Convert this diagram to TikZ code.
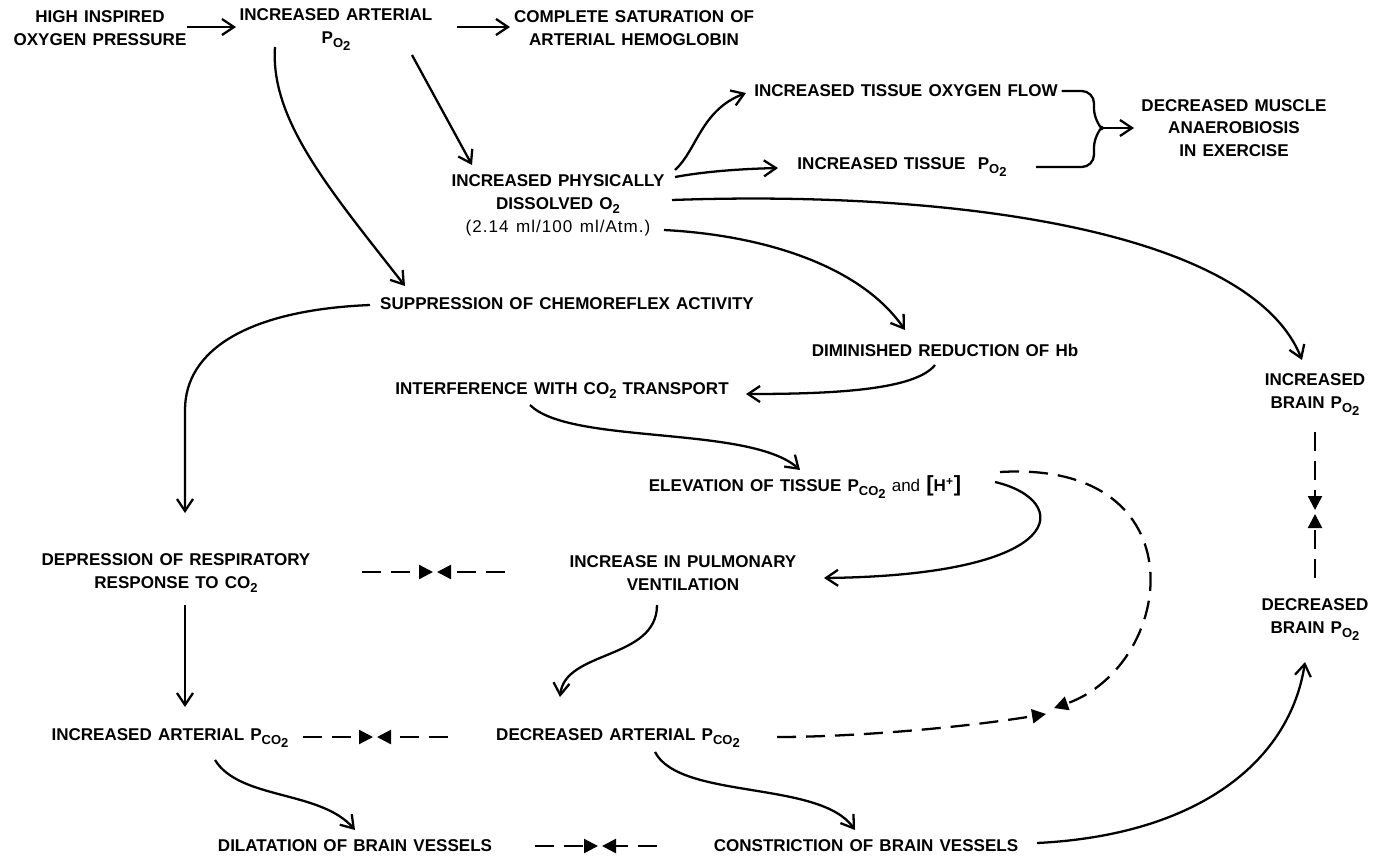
\documentclass[tikz,border=0pt]{standalone}
\usepackage{fontspec}
\setmainfont{Liberation Sans}[WordSpace=1.3]
\usetikzlibrary{arrows.meta,calc}

\newcommand\lowr[1]{\raisebox{-.45ex}{\fontsize{7.4}{7}\selectfont #1}}
\newcommand\pOtwo{P\lowr{O\lowr{2}}}
\newcommand\pCOtwo{P\lowr{CO\lowr{2}}}
\newcommand\otwo{O\lowr{2}}
\newcommand\cotwo{CO\lowr{2}}

\begin{document}
\begin{tikzpicture}[x=0.02cm, y=-0.02cm,
  font=\fontsize{9.7}{13}\selectfont\bfseries,
  lbl/.style={align=center, inner sep=2pt},
  ln/.style={line width=1.3pt},
  arr/.style={ln, -{Straight Barb[length=2.4mm,width=3.2mm]}},
  dsh/.style={ln, dash pattern=on 0.38cm off 0.2cm, -{Triangle[length=2.8mm,width=2.8mm]}},
]
  \useasboundingbox (0,0) rectangle (1378,856);

  \node[lbl] (hiox)    at (100,28)   {HIGH INSPIRED\\OXYGEN PRESSURE};
  \node[lbl] (artpo)   at (336,30)   {INCREASED ARTERIAL\\\pOtwo};
  \node[lbl] (sat)     at (634,28)   {COMPLETE SATURATION OF\\ARTERIAL HEMOGLOBIN};
  \node[lbl] (dissol)  at (558,205)  {INCREASED PHYSICALLY\\DISSOLVED \otwo\\
                                      {\mdseries\addfontfeature{LetterSpace=6}(2.14 ml/100 ml/Atm.)}};
  \node[lbl] (tisflow) at (906,91)   {INCREASED TISSUE OXYGEN FLOW};
  \node[lbl] (tispo)   at (902,167)  {INCREASED TISSUE \ \pOtwo};
  \node[lbl] (anaer)   at (1234,128) {DECREASED MUSCLE\\ANAEROBIOSIS\\IN EXERCISE};

  \node[lbl] (chemo)   at (567,304)  {SUPPRESSION OF CHEMOREFLEX ACTIVITY};
  \node[lbl] (dimin)   at (945,350)  {DIMINISHED REDUCTION OF Hb};
  \node[lbl] (interf)  at (562,391)  {INTERFERENCE WITH \cotwo\ TRANSPORT};
  \node[lbl] (elev)    at (805,487)  {ELEVATION OF TISSUE \pCOtwo\ {\mdseries and}
                                      {\fontsize{12.5}{12}\selectfont[}H\textsuperscript{+}{\fontsize{12.5}{12}\selectfont]}};
  \node[lbl] (brinc)   at (1315,395) {INCREASED\\BRAIN \pOtwo};
  \node[lbl] (brdec)   at (1315,620) {DECREASED\\BRAIN \pOtwo};

  \node[lbl] (depr)    at (176,573)  {DEPRESSION OF RESPIRATORY\\RESPONSE TO \cotwo};
  \node[lbl] (pulm)    at (683,573)  {INCREASE IN PULMONARY\\VENTILATION};
  \node[lbl] (aci)     at (170,738)  {INCREASED ARTERIAL \pCOtwo};
  \node[lbl] (acd)     at (618,738)  {DECREASED ARTERIAL \pCOtwo};
  \node[lbl] (dil)     at (355,846)  {DILATATION OF BRAIN VESSELS};
  \node[lbl] (constr)  at (866,846)  {CONSTRICTION OF BRAIN VESSELS};

  \coordinate (m1)  at (435,572);
  \coordinate (m2)  at (375,737);
  \coordinate (m3)  at (600,846);
  \coordinate (m4)  at (1315,512);
  \coordinate (m5)  at (1050,711);
  \coordinate (brc) at (1094,128);

  % top row
  \draw[arr] ($(hiox)+(87,-1)$) -- ($(artpo)+(-100,-3)$);
  \draw[arr] ($(artpo)+(121,-3)$) -- ($(sat)+(-124,-1)$);
  \draw[arr] ($(artpo)+(-61,17)$) .. controls +(-5,73) and +(-75,-96) .. ($(chemo)+(-162,-18)$);
  \draw[arr] ($(artpo)+(76,25)$) -- ($(dissol)+(-86,-40)$);

  % out of dissolved O2
  \draw[arr] ($(dissol)+(117,-35)$) .. controls +(22,-20) and +(-45,17) .. ($(tisflow)+(-160,2)$);
  \draw[arr] ($(dissol)+(117,-28)$) .. controls +(27,-5) and +(-42,1) .. ($(tispo)+(-124,1)$);
  \draw[arr] ($(dissol)+(114,-5)$) .. controls +(280,-10) and +(-52,-130) .. ($(brinc)+(-13,-35)$);
  \draw[arr] ($(dissol)+(106,25)$) .. controls +(98,5) and +(-45,-65) .. ($(dimin)+(-40,-20)$);

  \draw[ln, rounded corners=7] (tisflow.east) -| ($(brc)+(0,-7)$) -- ($(brc)+(7,0)$);
  \draw[ln, rounded corners=7] ($(tispo)+(134,0)$) -| ($(brc)+(0,7)$) -- ($(brc)+(7,0)$);
  \draw[arr] ($(brc)+(7,0)$) -- ($(anaer)+(-100,0)$);

  % middle
  \draw[arr] ($(chemo)+(-197,1)$) .. controls +(-122,5) and +(0,-60) .. ($(depr)+(9,-163)$)
             -- ($(depr)+(9,-60)$);
  \draw[arr] ($(dimin)+(-10,15)$) .. controls +(-20,25) and +(88,0) .. ($(interf)+(184,3)$);
  \draw[arr] ($(interf)+(-32,14)$) .. controls +(40,40) and +(-50,-45) .. ($(elev)+(-5,-17)$);
  \draw[arr] ($(elev)+(190,-5)$) .. controls +(77,18) and +(248,-3) .. ($(pulm)+(141,5)$);
  \draw[dsh] ($(elev)+(195,-15)$) .. controls +(202,-12) and +(122,-43) .. ($(m5)+(4,-3)$);
  \draw[dsh] ($(acd)+(159,-1)$) .. controls +(75,0) and +(-86,14) .. ($(m5)+(-4,3)$);

  \draw[dsh] ($(brinc)+(0,37)$) -- ($(m4)+(0,-2)$);
  \draw[dsh] ($(brdec)+(0,-42)$) -- ($(m4)+(0,2)$);

  % lower half
  \draw[dsh] ($(depr)+(186,-1)$) -- ($(m1)+(-2,0)$);
  \draw[dsh] ($(pulm)+(-178,-1)$) -- ($(m1)+(2,0)$);
  \draw[arr] ($(depr)+(9,32)$) -- ($(aci)+(15,-31)$);
  \draw[arr] ($(pulm)+(-26,32)$) .. controls +(0,55) and +(5,-47) .. ($(acd)+(-58,-41)$);
  \draw[dsh] ($(aci)+(133,-1)$) -- ($(m2)+(-2,0)$);
  \draw[dsh] ($(acd)+(-170,-1)$) -- ($(m2)+(2,0)$);
  \draw[arr] ($(aci)+(45,22)$) .. controls +(25,40) and +(-35,-40) .. ($(dil)+(0,-16)$);
  \draw[arr] ($(acd)+(37,14)$) .. controls +(25,48) and +(-35,-50) .. ($(constr)+(-11,-16)$);
  \draw[dsh] ($(dil)+(180,0)$) -- ($(m3)+(-2,0)$);
  \draw[dsh] ($(constr)+(-209,0)$) -- ($(m3)+(2,0)$);
  \draw[arr] ($(constr)+(171,-3)$) .. controls +(163,-8) and +(-15,98) .. ($(brdec)+(-10,42)$);
\end{tikzpicture}
\end{document}
